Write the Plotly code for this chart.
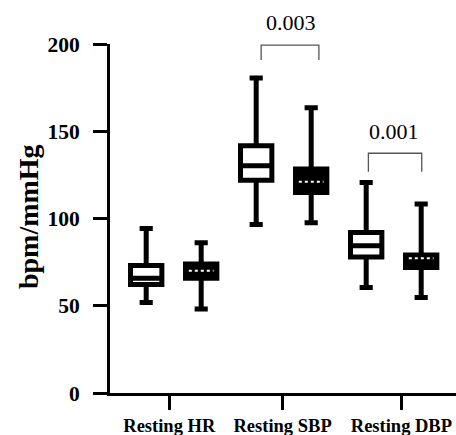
import plotly.graph_objects as go

# ---- data ----
groups = ["Resting HR", "Resting SBP", "Resting DBP"]
box_pos = [0, 1, 2, 3, 4, 5]
upper = [94.3, 86.1, 180.5, 163.4, 120.6, 108.3]
q3 = [73.1, 73.9, 141.7, 128.4, 92.0, 79.1]
median = [65.7, 70.0, 130.2, 121.1, 84.4, 77.2]
q1 = [62.2, 65.7, 121.9, 114.9, 78.0, 71.9]
lower = [51.9, 48.1, 96.6, 97.5, 60.5, 54.7]
filled = [False, True, False, True, False, True]
group_ticks = [0.42, 2.48, 4.64]
y_ticks = [0, 50, 100, 150, 200]

p_labels = ["0.003", "0.001"]
bracket_x0 = [2.09, 4.04]
bracket_x1 = [3.14, 5.01]
bracket_top = [199.4, 137.4]
bracket_leg = [190.8, 126.8]
label_y = [212.2, 149.7]
label_x = [2.63, 4.51]

FONT = "Liberation Serif, Times New Roman, serif"
BW = 0.57
YMAX = 200.0

fig = go.Figure()
for i in range(len(box_pos)):
    fc = "black" if filled[i] else "white"
    fig.add_trace(go.Box(
        x=[box_pos[i]], q1=[q1[i]], median=[median[i]], q3=[q3[i]],
        lowerfence=[lower[i]], upperfence=[upper[i]],
        width=BW, whiskerwidth=0.42,
        fillcolor=fc, line=dict(color="black", width=5),
        boxpoints=False, hoverinfo="skip", showlegend=False,
    ))
    if filled[i]:
        fig.add_trace(go.Scatter(
            x=[box_pos[i] - BW / 2 + 0.06, box_pos[i] + BW / 2 - 0.06],
            y=[median[i], median[i]], mode="lines",
            line=dict(color="white", width=2, dash="dot"),
            hoverinfo="skip", showlegend=False,
        ))

shapes = []
annotations = []
for k in range(len(p_labels)):
    shapes.append(dict(
        type="path", xref="x", yref="paper",
        path=(f"M {bracket_x0[k]},{bracket_leg[k]/YMAX} "
              f"L {bracket_x0[k]},{bracket_top[k]/YMAX} "
              f"L {bracket_x1[k]},{bracket_top[k]/YMAX} "
              f"L {bracket_x1[k]},{bracket_leg[k]/YMAX}"),
        line=dict(color="#555555", width=1.3),
    ))
    annotations.append(dict(
        text=p_labels[k], x=label_x[k], y=label_y[k] / YMAX,
        xref="x", yref="paper", showarrow=False,
        xanchor="center", yanchor="middle",
        font=dict(family=FONT, size=22, color="black"),
    ))

annotations.append(dict(
    text="<b>bpm/mmHg</b>", x=-0.237, y=0.507, xref="paper", yref="paper",
    textangle=-90, showarrow=False, xanchor="center", yanchor="middle",
    font=dict(family=FONT, size=28, color="black"),
))

fig.update_layout(
    width=456, height=435,
    margin=dict(l=110, r=0, t=44, b=42),
    paper_bgcolor="white", plot_bgcolor="white",
    font=dict(family=FONT, color="black"),
    shapes=shapes, annotations=annotations,
    xaxis=dict(
        range=[-0.658, 5.633], tickmode="array", tickvals=group_ticks,
        ticktext=[f"<b>{g}</b>" for g in groups],
        showline=True, linecolor="black", linewidth=3,
        ticks="outside", ticklen=14, tickwidth=3, tickcolor="black",
        showgrid=False, zeroline=False,
        tickfont=dict(family=FONT, size=18.5, color="black"),
    ),
    yaxis=dict(
        range=[0, YMAX], tickmode="array", tickvals=y_ticks,
        ticktext=[f"<b>{v}</b>" for v in y_ticks],
        showline=True, linecolor="black", linewidth=3,
        ticks="outside", ticklen=14, tickwidth=3, tickcolor="black",
        ticklabelstandoff=9,
        showgrid=False, zeroline=False,
        tickfont=dict(family=FONT, size=21.5, color="black"),
    ),
)

fig.write_html(
    "out.html",
    config={"displayModeBar": False},
    post_script="document.body.style.margin='0';document.body.style.overflow='hidden';",
)
